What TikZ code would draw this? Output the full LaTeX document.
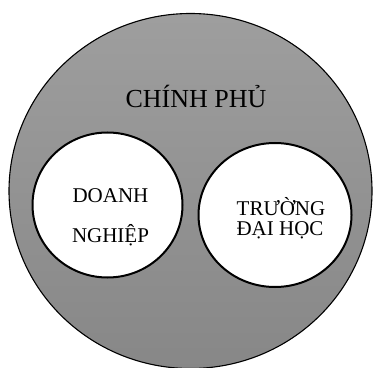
\documentclass[tikz,border=0pt]{standalone}
\usepackage{fontspec}
\setmainfont{Liberation Serif}
\usetikzlibrary{shapes.geometric}
\begin{document}
\begin{tikzpicture}[x=1pt,y=1pt,
  outer/.style={ellipse,draw=black,line width=1.1pt,top color=black!38,bottom color=black!47,inner sep=0pt,
    minimum width=363pt,minimum height=355pt},
  inner/.style={ellipse,draw=black,line width=2pt,fill=white,inner sep=0pt},
  lbl/.style={anchor=base,inner sep=0pt,font=\fontsize{21}{21}\selectfont}]
\useasboundingbox (0,0) rectangle (374,367);
\clip (0,0) rectangle (374,367);
\node[outer] (gov) at (190.5,176) {};
\node[inner,minimum width=150pt,minimum height=145pt] (biz) at (107.5,162) {};
\node[inner,minimum width=153pt,minimum height=144pt] (uni) at (275,152) {};
\node[anchor=base,inner sep=0pt,font=\fontsize{26}{26}\selectfont] (tgov) at (196,259) {CHÍNH PHỦ};
\node[lbl] (tbiz1) at (110.5,165) {DOANH};
\node[lbl] (tbiz2) at (110.5,125) {NGHIỆP};
\node[lbl] (tuni1) at (281,152) {TRƯỜNG};
\node[lbl] (tuni2) at (280,132) {ĐẠI HỌC};
\end{tikzpicture}
\end{document}
